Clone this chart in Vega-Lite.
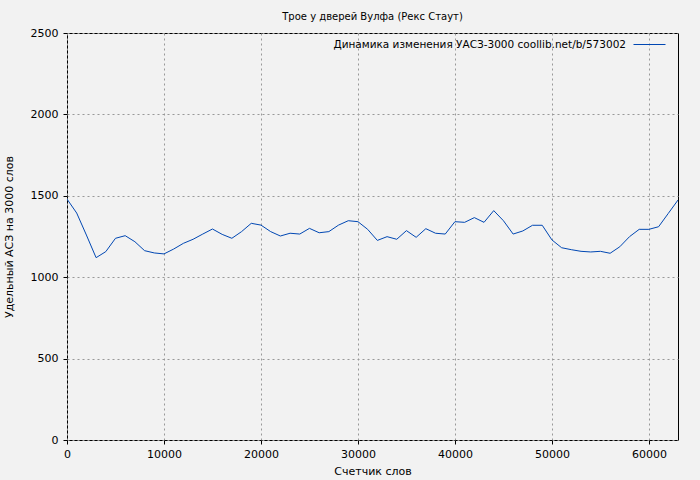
{
  "$schema": "https://vega.github.io/schema/vega-lite/v6.json",
  "autosize": "none",
  "width": 611,
  "height": 407,
  "padding": {"left": 67, "top": 33, "right": 22, "bottom": 40},
  "background": "#f2f2f2",
  "title": {"text": "Трое у дверей Вулфа (Рекс Стаут)", "font": "DejaVu Sans", "fontSize": 10, "fontWeight": "normal", "color": "#000000", "offset": 5, "anchor": "middle"},
  "config": {
    "view": {"stroke": "#000000", "strokeWidth": 1, "fill": "#f2f2f2"},
    "axis": {"labelFont": "DejaVu Sans", "labelFontSize": 11, "labelColor": "#000000", "titleFont": "DejaVu Sans", "titleFontSize": 11, "titleFontWeight": "normal", "titleColor": "#000000", "domain": false, "tickColor": "#000000", "tickSize": 4, "gridColor": "#999999", "gridDash": [2, 3], "gridWidth": 1, "gridOpacity": 1, "labelFlush": false}
  },
  "data": {"values": [
    {"x": 0, "y": 1480, "s": "Динамика изменения УАСЗ-3000 coollib.net/b/573002"},
    {"x": 1000, "y": 1394, "s": "Динамика изменения УАСЗ-3000 coollib.net/b/573002"},
    {"x": 2000, "y": 1259, "s": "Динамика изменения УАСЗ-3000 coollib.net/b/573002"},
    {"x": 3000, "y": 1120, "s": "Динамика изменения УАСЗ-3000 coollib.net/b/573002"},
    {"x": 4000, "y": 1157, "s": "Динамика изменения УАСЗ-3000 coollib.net/b/573002"},
    {"x": 5000, "y": 1239, "s": "Динамика изменения УАСЗ-3000 coollib.net/b/573002"},
    {"x": 6000, "y": 1255, "s": "Динамика изменения УАСЗ-3000 coollib.net/b/573002"},
    {"x": 7000, "y": 1218, "s": "Динамика изменения УАСЗ-3000 coollib.net/b/573002"},
    {"x": 8000, "y": 1163, "s": "Динамика изменения УАСЗ-3000 coollib.net/b/573002"},
    {"x": 9000, "y": 1149, "s": "Динамика изменения УАСЗ-3000 coollib.net/b/573002"},
    {"x": 10000, "y": 1143, "s": "Динамика изменения УАСЗ-3000 coollib.net/b/573002"},
    {"x": 11000, "y": 1173, "s": "Динамика изменения УАСЗ-3000 coollib.net/b/573002"},
    {"x": 12000, "y": 1208, "s": "Динамика изменения УАСЗ-3000 coollib.net/b/573002"},
    {"x": 13000, "y": 1233, "s": "Динамика изменения УАСЗ-3000 coollib.net/b/573002"},
    {"x": 14000, "y": 1265, "s": "Динамика изменения УАСЗ-3000 coollib.net/b/573002"},
    {"x": 15000, "y": 1296, "s": "Динамика изменения УАСЗ-3000 coollib.net/b/573002"},
    {"x": 16000, "y": 1263, "s": "Динамика изменения УАСЗ-3000 coollib.net/b/573002"},
    {"x": 17000, "y": 1239, "s": "Динамика изменения УАСЗ-3000 coollib.net/b/573002"},
    {"x": 18000, "y": 1280, "s": "Динамика изменения УАСЗ-3000 coollib.net/b/573002"},
    {"x": 19000, "y": 1331, "s": "Динамика изменения УАСЗ-3000 coollib.net/b/573002"},
    {"x": 20000, "y": 1320, "s": "Динамика изменения УАСЗ-3000 coollib.net/b/573002"},
    {"x": 21000, "y": 1280, "s": "Динамика изменения УАСЗ-3000 coollib.net/b/573002"},
    {"x": 22000, "y": 1253, "s": "Динамика изменения УАСЗ-3000 coollib.net/b/573002"},
    {"x": 23000, "y": 1270, "s": "Динамика изменения УАСЗ-3000 coollib.net/b/573002"},
    {"x": 24000, "y": 1265, "s": "Динамика изменения УАСЗ-3000 coollib.net/b/573002"},
    {"x": 25000, "y": 1300, "s": "Динамика изменения УАСЗ-3000 coollib.net/b/573002"},
    {"x": 26000, "y": 1273, "s": "Динамика изменения УАСЗ-3000 coollib.net/b/573002"},
    {"x": 27000, "y": 1280, "s": "Динамика изменения УАСЗ-3000 coollib.net/b/573002"},
    {"x": 28000, "y": 1320, "s": "Динамика изменения УАСЗ-3000 coollib.net/b/573002"},
    {"x": 29000, "y": 1347, "s": "Динамика изменения УАСЗ-3000 coollib.net/b/573002"},
    {"x": 30000, "y": 1341, "s": "Динамика изменения УАСЗ-3000 coollib.net/b/573002"},
    {"x": 31000, "y": 1294, "s": "Динамика изменения УАСЗ-3000 coollib.net/b/573002"},
    {"x": 32000, "y": 1226, "s": "Динамика изменения УАСЗ-3000 coollib.net/b/573002"},
    {"x": 33000, "y": 1249, "s": "Динамика изменения УАСЗ-3000 coollib.net/b/573002"},
    {"x": 34000, "y": 1233, "s": "Динамика изменения УАСЗ-3000 coollib.net/b/573002"},
    {"x": 35000, "y": 1286, "s": "Динамика изменения УАСЗ-3000 coollib.net/b/573002"},
    {"x": 36000, "y": 1245, "s": "Динамика изменения УАСЗ-3000 coollib.net/b/573002"},
    {"x": 37000, "y": 1298, "s": "Динамика изменения УАСЗ-3000 coollib.net/b/573002"},
    {"x": 38000, "y": 1270, "s": "Динамика изменения УАСЗ-3000 coollib.net/b/573002"},
    {"x": 39000, "y": 1265, "s": "Динамика изменения УАСЗ-3000 coollib.net/b/573002"},
    {"x": 40000, "y": 1341, "s": "Динамика изменения УАСЗ-3000 coollib.net/b/573002"},
    {"x": 41000, "y": 1337, "s": "Динамика изменения УАСЗ-3000 coollib.net/b/573002"},
    {"x": 42000, "y": 1366, "s": "Динамика изменения УАСЗ-3000 coollib.net/b/573002"},
    {"x": 43000, "y": 1337, "s": "Динамика изменения УАСЗ-3000 coollib.net/b/573002"},
    {"x": 44000, "y": 1409, "s": "Динамика изменения УАСЗ-3000 coollib.net/b/573002"},
    {"x": 45000, "y": 1347, "s": "Динамика изменения УАСЗ-3000 coollib.net/b/573002"},
    {"x": 46000, "y": 1265, "s": "Динамика изменения УАСЗ-3000 coollib.net/b/573002"},
    {"x": 47000, "y": 1284, "s": "Динамика изменения УАСЗ-3000 coollib.net/b/573002"},
    {"x": 48000, "y": 1319, "s": "Динамика изменения УАСЗ-3000 coollib.net/b/573002"},
    {"x": 49000, "y": 1319, "s": "Динамика изменения УАСЗ-3000 coollib.net/b/573002"},
    {"x": 50000, "y": 1229, "s": "Динамика изменения УАСЗ-3000 coollib.net/b/573002"},
    {"x": 51000, "y": 1181, "s": "Динамика изменения УАСЗ-3000 coollib.net/b/573002"},
    {"x": 52000, "y": 1169, "s": "Динамика изменения УАСЗ-3000 coollib.net/b/573002"},
    {"x": 53000, "y": 1159, "s": "Динамика изменения УАСЗ-3000 coollib.net/b/573002"},
    {"x": 54000, "y": 1155, "s": "Динамика изменения УАСЗ-3000 coollib.net/b/573002"},
    {"x": 55000, "y": 1159, "s": "Динамика изменения УАСЗ-3000 coollib.net/b/573002"},
    {"x": 56000, "y": 1147, "s": "Динамика изменения УАСЗ-3000 coollib.net/b/573002"},
    {"x": 57000, "y": 1187, "s": "Динамика изменения УАСЗ-3000 coollib.net/b/573002"},
    {"x": 58000, "y": 1249, "s": "Динамика изменения УАСЗ-3000 coollib.net/b/573002"},
    {"x": 59000, "y": 1294, "s": "Динамика изменения УАСЗ-3000 coollib.net/b/573002"},
    {"x": 60000, "y": 1294, "s": "Динамика изменения УАСЗ-3000 coollib.net/b/573002"},
    {"x": 61000, "y": 1310, "s": "Динамика изменения УАСЗ-3000 coollib.net/b/573002"},
    {"x": 62000, "y": 1392, "s": "Динамика изменения УАСЗ-3000 coollib.net/b/573002"},
    {"x": 63000, "y": 1474, "s": "Динамика изменения УАСЗ-3000 coollib.net/b/573002"}
  ]},
  "mark": {"type": "line", "strokeWidth": 1, "clip": true},
  "encoding": {
    "x": {"field": "x", "type": "quantitative", "scale": {"domain": [0, 63000], "nice": false, "zero": false}, "axis": {"title": "Счетчик слов", "values": [0, 10000, 20000, 30000, 40000, 50000, 60000], "format": "d", "labelPadding": 4, "titlePadding": 6}},
    "y": {"field": "y", "type": "quantitative", "scale": {"domain": [0, 2500], "nice": false}, "axis": {"title": "Удельный АСЗ на 3000 слов", "values": [0, 500, 1000, 1500, 2000, 2500], "format": "d", "labelPadding": 5, "titlePadding": 16}},
    "color": {"field": "s", "type": "nominal", "scale": {"range": ["#0047b3"]}, "legend": {"title": null, "orient": "none", "legendX": 566, "legendY": -5, "symbolType": "stroke", "symbolSize": 1024, "symbolStrokeWidth": 1, "labelAlign": "right", "labelOffset": -40, "labelFont": "DejaVu Sans", "labelFontSize": 10.5, "labelColor": "#000000", "labelLimit": 0}}
  }
}
